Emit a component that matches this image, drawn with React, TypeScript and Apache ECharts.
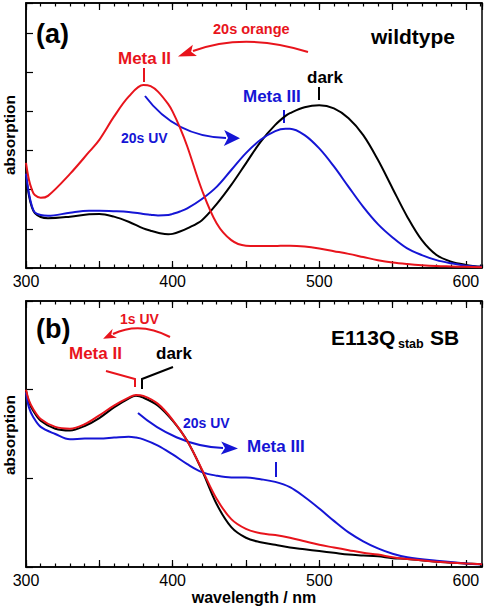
import React, { useEffect, useRef } from "react";
import * as echarts from "echarts";

// ---------- Data: panel (a) wildtype ----------
const wlA = [300, 302, 304, 306, 310, 315, 330, 343, 350, 360, 370, 380, 385, 390, 397, 400, 405, 410, 420, 430, 440, 450, 460, 470, 477, 480, 490, 500, 510, 520, 530, 540, 550, 560, 570, 580, 590, 600, 611];
const darkA = [2.35, 1.85, 1.55, 1.40, 1.30, 1.27, 1.31, 1.37, 1.38, 1.31, 1.18, 1.01, 0.95, 0.90, 0.86, 0.87, 0.93, 1.01, 1.22, 1.63, 2.12, 2.67, 3.22, 3.65, 3.88, 3.95, 4.10, 4.15, 4.07, 3.82, 3.39, 2.76, 2.03, 1.31, 0.71, 0.33, 0.16, 0.08, 0.03];
const meta3A = [2.41, 1.90, 1.58, 1.42, 1.35, 1.33, 1.41, 1.46, 1.46, 1.45, 1.43, 1.38, 1.36, 1.34, 1.35, 1.38, 1.44, 1.52, 1.76, 2.07, 2.50, 2.93, 3.27, 3.49, 3.55, 3.55, 3.39, 3.05, 2.59, 2.07, 1.56, 1.12, 0.78, 0.50, 0.33, 0.20, 0.12, 0.06, 0.03];
const meta2A = [2.68, 2.25, 2.00, 1.86, 1.79, 1.84, 2.40, 2.96, 3.27, 3.86, 4.37, 4.67, 4.64, 4.50, 4.18, 3.99, 3.58, 3.10, 1.99, 1.14, 0.71, 0.57, 0.56, 0.56, 0.57, 0.57, 0.55, 0.50, 0.43, 0.36, 0.28, 0.20, 0.14, 0.10, 0.07, 0.05, 0.04, 0.03, 0.02];

// ---------- Data: panel (b) E113Q stab SB ----------
const wlB = [300, 302, 305, 310, 320, 330, 340, 350, 360, 370, 375, 380, 390, 400, 410, 420, 430, 440, 450, 460, 470, 480, 490, 500, 510, 520, 530, 540, 550, 560, 580, 600, 611];
const darkB = [1.99, 1.86, 1.76, 1.65, 1.56, 1.54, 1.59, 1.68, 1.80, 1.90, 1.93, 1.91, 1.82, 1.65, 1.42, 1.09, 0.71, 0.45, 0.33, 0.28, 0.25, 0.22, 0.20, 0.18, 0.16, 0.14, 0.13, 0.12, 0.10, 0.09, 0.06, 0.04, 0.03];
const meta2B = [2.00, 1.88, 1.78, 1.67, 1.58, 1.56, 1.61, 1.71, 1.82, 1.91, 1.94, 1.93, 1.84, 1.66, 1.42, 1.10, 0.77, 0.54, 0.43, 0.38, 0.36, 0.33, 0.29, 0.25, 0.22, 0.19, 0.16, 0.14, 0.11, 0.09, 0.06, 0.04, 0.03];
const meta3B = [1.97, 1.80, 1.69, 1.58, 1.50, 1.44, 1.45, 1.45, 1.46, 1.47, 1.46, 1.44, 1.37, 1.27, 1.16, 1.07, 1.03, 1.01, 1.01, 0.99, 0.96, 0.90, 0.79, 0.66, 0.52, 0.39, 0.29, 0.21, 0.15, 0.11, 0.07, 0.04, 0.03];

const xTickLabels = [300, 400, 500, 600];

const RED = "#e8141c";
const BLUE = "#1515d5";
const BLACK = "#000000";
const FONT = "'Liberation Sans', Arial, sans-serif";

const pairs = (xs: number[], ys: number[]) => xs.map((x, i) => [x, ys[i]]);

function arrow(
  pts: number[],
  color: string,
  len: number,
  wid: number
): any[] {
  // pts: x1,y1,cx1,cy1,(cx2,cy2),x2,y2
  let shape: any;
  let cx: number, cy: number, x2: number, y2: number;
  if (pts.length === 6) {
    const [x1, y1, c1x, c1y, ex, ey] = pts;
    shape = { x1, y1, cpx1: c1x, cpy1: c1y, x2: ex, y2: ey };
    cx = c1x; cy = c1y; x2 = ex; y2 = ey;
  } else {
    const [x1, y1, c1x, c1y, c2x, c2y, ex, ey] = pts;
    shape = { x1, y1, cpx1: c1x, cpy1: c1y, cpx2: c2x, cpy2: c2y, x2: ex, y2: ey };
    cx = c2x; cy = c2y; x2 = ex; y2 = ey;
  }
  const dx = x2 - cx, dy = y2 - cy;
  const d = Math.hypot(dx, dy) || 1;
  const ux = dx / d, uy = dy / d;
  const nx = -uy, ny = ux;
  const tip = [x2 + ux * len, y2 + uy * len];
  const back = [x2 - ux * 2, y2 - uy * 2];
  return [
    { type: "bezierCurve", shape, style: { stroke: color, lineWidth: 2, fill: null } },
    {
      type: "polygon",
      shape: {
        points: [
          tip,
          [back[0] + nx * wid / 2, back[1] + ny * wid / 2],
          [x2 + ux * 2, y2 + uy * 2],
          [back[0] - nx * wid / 2, back[1] - ny * wid / 2],
        ],
      },
      style: { fill: color },
    },
  ];
}

function txt(text: string, x: number, y: number, size: number, color: string, align = "left", bold = true): any {
  return {
    type: "text",
    x,
    y,
    style: {
      text,
      fill: color,
      font: `${bold ? "bold " : ""}${size}px ${FONT}`,
      textAlign: align,
      textVerticalAlign: "middle",
    },
  };
}

function seg(points: number[][], color: string): any {
  return { type: "polyline", shape: { points }, style: { stroke: color, lineWidth: 2, fill: null } };
}

export default function App() {
  const ref = useRef<HTMLDivElement>(null);
  useEffect(() => {
    if (!ref.current) return;
    const chart = echarts.init(ref.current, null, { renderer: "svg" });

    const grids = [
      { left: 26, top: 3, width: 456, height: 265 },
      { left: 26, top: 301, width: 456, height: 266 },
    ];

    const xAxes: any[] = [];
    grids.forEach((_, gi) => {
      const common = { type: "value", min: 300, max: 611, gridIndex: gi, splitLine: { show: false } };
      const line = { show: true, lineStyle: { color: BLACK, width: 1.5 } };
      // bottom major (with labels)
      xAxes.push({
        ...common,
        position: "bottom",
        interval: 50,
        axisLine: line,
        axisTick: { show: true, inside: true, length: 7, lineStyle: { color: BLACK, width: 1.2 } },
        axisLabel: {
          show: true,
          margin: 5,
          fontSize: 16,
          color: BLACK,
          fontFamily: FONT,
          showMaxLabel: false,
          formatter: (v: number) => (xTickLabels.includes(v) ? String(v) : ""),
        },
      });
      // bottom minor
      xAxes.push({
        ...common,
        position: "bottom",
        interval: 10,
        axisLine: { show: false },
        axisTick: { show: true, inside: true, length: 3.5, lineStyle: { color: BLACK, width: 1.2 } },
        axisLabel: { show: false },
      });
      // top major
      xAxes.push({
        ...common,
        position: "top",
        interval: 50,
        axisLine: line,
        axisTick: { show: true, inside: true, length: 7, lineStyle: { color: BLACK, width: 1.2 } },
        axisLabel: { show: false },
      });
      // top minor
      xAxes.push({
        ...common,
        position: "top",
        interval: 10,
        axisLine: { show: false },
        axisTick: { show: true, inside: true, length: 3.5, lineStyle: { color: BLACK, width: 1.2 } },
        axisLabel: { show: false },
      });
    });

    const yAxes: any[] = [
      {
        type: "value", gridIndex: 0, min: 0, max: 6.76, interval: 1, position: "left",
        axisLine: { show: true, lineStyle: { color: BLACK, width: 1.5 } },
        axisTick: { show: true, inside: true, length: 7, lineStyle: { color: BLACK, width: 1.2 } },
        axisLabel: { show: false }, splitLine: { show: false },
      },
      {
        type: "value", gridIndex: 1, min: 0, max: 3, interval: 1, position: "left",
        axisLine: { show: true, lineStyle: { color: BLACK, width: 1.5 } },
        axisTick: { show: true, inside: true, length: 7, lineStyle: { color: BLACK, width: 1.2 } },
        axisLabel: { show: false }, splitLine: { show: false },
      },
    ];

    const mk = (name: string, data: number[][], color: string, xi: number, yi: number) => ({
      type: "line",
      name,
      data,
      xAxisIndex: xi,
      yAxisIndex: yi,
      showSymbol: false,
      symbol: "none",
      smooth: 0.35,
      lineStyle: { color, width: 2 },
      z: color === RED ? 3 : 2,
    });

    const series = [
      mk("dark (a)", pairs(wlA, darkA), BLACK, 0, 0),
      mk("Meta III (a)", pairs(wlA, meta3A), BLUE, 0, 0),
      mk("Meta II (a)", pairs(wlA, meta2A), RED, 0, 0),
      mk("dark (b)", pairs(wlB, darkB), BLACK, 4, 1),
      mk("Meta II (b)", pairs(wlB, meta2B), RED, 4, 1),
      mk("Meta III (b)", pairs(wlB, meta3B), BLUE, 4, 1),
    ];

    const graphic: any[] = [
      // panel (a)
      txt("(a)", 36, 34, 27, BLACK),
      txt("wildtype", 455, 36, 21, BLACK, "right"),
      txt("20s orange", 213, 29, 14.5, RED),
      ...arrow([308, 52, 245, 32, 193, 51], RED, 16, 12),
      txt("Meta II", 118, 58, 17, RED),
      seg([[144, 68], [144, 82]], RED),
      txt("dark", 307, 77, 17, BLACK),
      seg([[319, 87], [319, 100]], BLACK),
      txt("Meta III", 243, 96, 17, BLUE),
      seg([[284, 110], [284, 123]], BLUE),
      ...arrow([145, 96, 160, 116, 185, 137, 226, 138], BLUE, 14, 16),
      txt("20s UV", 121, 138, 14, BLUE),
      // panel (b)
      txt("(b)", 36, 329, 27, BLACK),
      txt("E113Q", 331, 337, 21, BLACK),
      txt("stab", 398, 344, 12.5, BLACK),
      txt("SB", 430, 337, 21, BLACK),
      txt("1s UV", 120, 319, 14, RED),
      ...arrow([170, 337, 140, 321, 113, 334], RED, 11, 10),
      txt("Meta II", 69, 353, 17, RED),
      txt("dark", 156, 353, 17, BLACK),
      seg([[106, 371], [135, 379], [135, 387]], RED),
      seg([[173, 367], [142, 379], [142, 389]], BLACK),
      txt("20s UV", 183, 423, 14, BLUE),
      ...arrow([138, 413, 160, 432, 190, 447, 223, 448], BLUE, 15, 13),
      txt("Meta III", 247, 446, 17, BLUE),
      seg([[276, 462], [276, 477]], BLUE),
      // axis titles
      {
        type: "text", x: 9, y: 135, rotation: Math.PI / 2,
        style: { text: "absorption", fill: BLACK, font: `bold 15.5px ${FONT}`, textAlign: "center", textVerticalAlign: "middle" },
      },
      {
        type: "text", x: 9, y: 435, rotation: Math.PI / 2,
        style: { text: "absorption", fill: BLACK, font: `bold 15.5px ${FONT}`, textAlign: "center", textVerticalAlign: "middle" },
      },
      txt("wavelength / nm", 254, 597, 16, BLACK, "center"),
    ];

    chart.setOption({
      animation: false,
      backgroundColor: "#ffffff",
      grid: grids.map((g) => ({ ...g, show: true, borderColor: BLACK, borderWidth: 1.5, backgroundColor: "transparent" })),
      xAxis: xAxes,
      yAxis: yAxes,
      series,
      graphic,
    });
    return () => chart.dispose();
  }, []);

  return (
    <div
      ref={ref}
      style={{ position: "fixed", left: 0, top: 0, width: 485, height: 606, background: "#fff" }}
    />
  );
}
